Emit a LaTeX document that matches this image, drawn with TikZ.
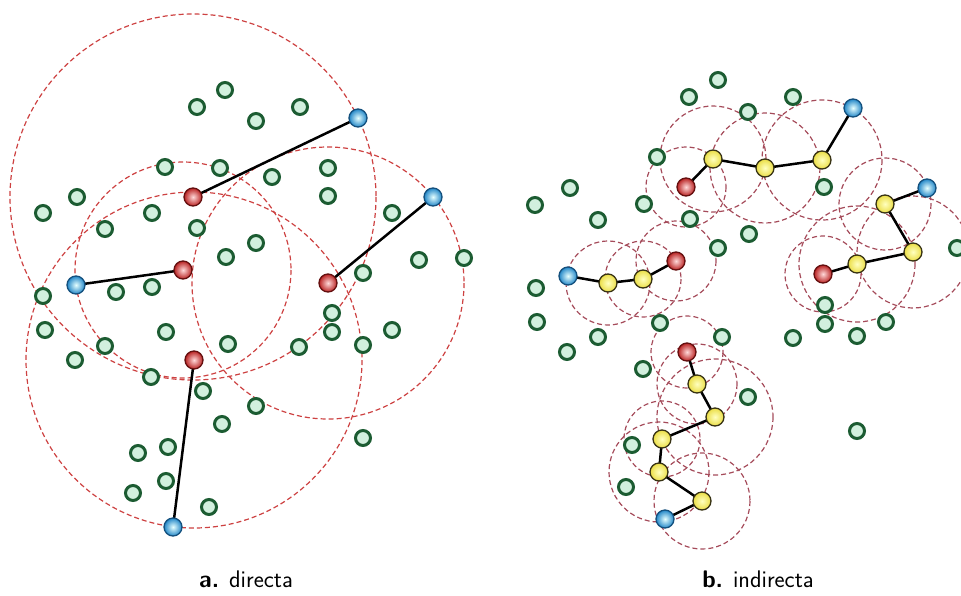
\documentclass[tikz,border=0pt]{standalone}
\usetikzlibrary{shapes.geometric}
\definecolor{gdark}{RGB}{28,92,50}
\definecolor{glight}{RGB}{210,240,222}
\definecolor{rangec}{RGB}{205,65,65}
\definecolor{rangeb}{RGB}{165,75,90}
\definecolor{rdark}{RGB}{100,15,15}
\definecolor{rmid}{RGB}{185,35,35}
\definecolor{bdark}{RGB}{20,80,125}
\definecolor{bmid}{RGB}{35,135,200}
\definecolor{ydark}{RGB}{55,50,20}
\definecolor{ymid}{RGB}{235,222,70}
\tikzset{
  gnode/.style={circle, minimum size=15pt, inner sep=0pt, draw=gdark, line width=3pt, fill=glight},
  rnode/.style={circle, minimum size=18pt, inner sep=0pt, draw=rdark, line width=1.3pt, inner color=red!15, outer color=rmid},
  bnode/.style={circle, minimum size=18pt, inner sep=0pt, draw=bdark, line width=1.3pt, inner color=cyan!10, outer color=bmid},
  ynode/.style={circle, minimum size=18pt, inner sep=0pt, draw=ydark, line width=1.3pt, inner color=yellow!25, outer color=ymid},
  rangea/.style={draw=rangec, line width=1.2pt, dash pattern=on 5pt off 3pt},
  rangebb/.style={draw=rangeb, line width=1.2pt, dash pattern=on 5pt off 3pt},
  hop/.style={draw=black, line width=2.5pt},
  captext/.style={font=\sffamily\fontsize{24}{28}\selectfont}
}
\begin{document}
\begin{tikzpicture}[x=1pt,y=-1pt]
\useasboundingbox (0,0) rectangle (961,595);
% ---------- left panel nodes ----------
\foreach \x/\y [count=\i] in {225/90,197/107,256/121,300/107,165/167,220/168,272/177,328/168,328/196,77/197,43/213,152/213,105/229,197/228,392/213,256/243,226/257,419/260,464/258,363/273,43/296,116/292,152/287,45/330,166/332,105/346,75/360,228/344,332/313,332/332,299/347,363/345,392/330,151/377,203/391,256/406,222/424,363/438,138/453,168/447,166/481,133/493,209/507}
  \coordinate (lg\i) at (\x,\y);
\coordinate (lr1) at (193,197);
\coordinate (lr2) at (183,270);
\coordinate (lr3) at (328,283);
\coordinate (lr4) at (194,360);
\coordinate (lb1) at (358,118);
\coordinate (lb2) at (76,285);
\coordinate (lb3) at (433,197);
\coordinate (lb4) at (173,527);
% ranges left
\draw[rangea] (lr1) circle[radius=183];
\draw[rangea] (lr2) circle[radius=108];
\draw[rangea] (lr3) circle[radius=136];
\draw[rangea] (lr4) circle[radius=168];
% ---------- right panel ----------
\foreach \x/\y [count=\i] in {718/80,689/97,748/112,793/97,657/157,824/187,570/188,535/205,644/204,598/220,690/219,749/234,718/248,957/248,536/288,537/322,598/337,567/352,660/323,722/337,643/369,748/397,632/445,626/487,825/305,825/324,886/322,793/338,857/336,857/431}
  \coordinate (rg\i) at (\x,\y);
% top chain
\coordinate (tr) at (686,187);
\coordinate (ty1) at (713,159);
\coordinate (ty2) at (765,168);
\coordinate (ty3) at (822,160);
\coordinate (tb) at (853,108);
% right chain
\coordinate (sr) at (823,274);
\coordinate (sy1) at (857,264);
\coordinate (sy2) at (913,252);
\coordinate (sy3) at (885,204);
\coordinate (sb) at (927,188);
% left chain
\coordinate (wr) at (676,261);
\coordinate (wy1) at (643,279);
\coordinate (wy2) at (608,283);
\coordinate (wb) at (568,276);
% bottom chain
\coordinate (br) at (687,352);
\coordinate (by1) at (697,384);
\coordinate (by2) at (715,417);
\coordinate (by3) at (662,439);
\coordinate (by4) at (659,472);
\coordinate (by5) at (702,501);
\coordinate (bb) at (665,519);
% ranges right
\draw[rangebb] (tr) circle[radius=40];
\draw[rangebb] (ty1) circle[radius=53];
\draw[rangebb] (ty2) circle[radius=55];
\draw[rangebb] (ty3) circle[radius=60];
\draw[rangebb] (sr) circle[radius=38];
\draw[rangebb] (sy1) circle[radius=58];
\draw[rangebb] (sy2) circle[radius=56];
\draw[rangebb] (sy3) circle[radius=46];
\draw[rangebb] (wr) circle[radius=40];
\draw[rangebb] (wy1) circle[radius=38];
\draw[rangebb] (wy2) circle[radius=42];
\draw[rangebb] (br) circle[radius=36];
\draw[rangebb] (by1) circle[radius=40];
\draw[rangebb] (by2) circle[radius=58];
\draw[rangebb] (by3) circle[radius=38];
\draw[rangebb] (by4) circle[radius=50];
\draw[rangebb] (by5) circle[radius=48];
% hops
\draw[hop] (lr1) -- (lb1);
\draw[hop] (lr2) -- (lb2);
\draw[hop] (lr3) -- (lb3);
\draw[hop] (lr4) -- (lb4);
\draw[hop] (tr) -- (ty1) -- (ty2) -- (ty3) -- (tb);
\draw[hop] (sr) -- (sy1) -- (sy2) -- (sy3) -- (sb);
\draw[hop] (wr) -- (wy1) -- (wy2) -- (wb);
\draw[hop] (br) -- (by1) -- (by2) -- (by3) -- (by4) -- (by5) -- (bb);
% node glyphs
\foreach \i in {1,...,43} \node[gnode] (nlg\i) at (lg\i) {};
\foreach \i in {1,...,30} \node[gnode] (nrg\i) at (rg\i) {};
\foreach \n in {lr1,lr2,lr3,lr4,tr,sr,wr,br} \node[rnode] (n\n) at (\n) {};
\foreach \n in {lb1,lb2,lb3,lb4,tb,sb,wb,bb} \node[bnode] (n\n) at (\n) {};
\foreach \n in {ty1,ty2,ty3,sy1,sy2,sy3,wy1,wy2,by1,by2,by3,by4,by5} \node[ynode] (n\n) at (\n) {};
% captions
\node[captext] (capa) at (246,579) {\textbf{a.} directa};
\node[captext] (capb) at (758,579) {\textbf{b.} indirecta};
\end{tikzpicture}
\end{document}
